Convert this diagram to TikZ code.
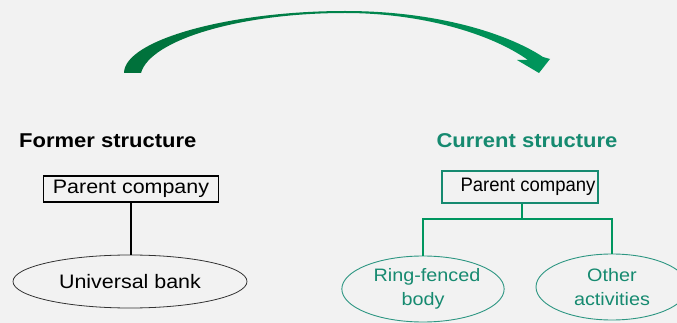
\documentclass[tikz,border=0pt]{standalone}
\usepackage{fontspec}
\setmainfont{Liberation Sans}[FakeStretch=1.1]
\newfontfamily\narrowfont{Liberation Sans}[FakeStretch=0.95]
\usetikzlibrary{shapes.geometric}
\definecolor{bg}{RGB}{242,242,242}
\definecolor{teal}{RGB}{22,138,112}
\definecolor{lgreen}{RGB}{0,150,95}
\definecolor{eteal}{RGB}{45,150,130}
\definecolor{adark}{RGB}{0,112,58}
\definecolor{alight}{RGB}{0,150,92}
\tikzset{
  title/.style={font=\fontsize{20}{24}\selectfont\bfseries, inner sep=0pt},
  oldbox/.style={draw=black, line width=1.3pt, minimum width=175pt, minimum height=26pt, inner sep=0pt, font=\fontsize{19.5}{23}\selectfont},
  newbox/.style={draw=teal, line width=1.5pt, minimum width=156pt, minimum height=32pt, inner sep=0pt, font=\narrowfont\fontsize{19.5}{23}\selectfont},
  oldell/.style={ellipse, draw=black!80, line width=0.8pt, inner sep=0pt, font=\fontsize{19.5}{23}\selectfont},
  newell/.style={ellipse, draw=eteal, line width=0.9pt, inner sep=0pt, align=center, text=teal, font=\fontsize{18}{24}\selectfont},
  oldline/.style={draw=black, line width=1.3pt},
  newline/.style={draw=lgreen, line width=2pt}
}
\begin{document}
\begin{tikzpicture}[x=1pt,y=-1pt]
\fill[bg] (0,0) rectangle (677,323);
\useasboundingbox (0,0) rectangle (677,323);
\clip (0,0) rectangle (677,323);
% curved arrow
\shade[left color=adark, right color=alight]
  (124,73) .. controls (124,40) and (230,11) .. (345,11)
  .. controls (440,11) and (510,35) .. (543,57)
  -- (550,59) -- (539,73) -- (517,60) -- (528,60)
  .. controls (490,33) and (420,13) .. (345,13)
  .. controls (240,13) and (150,40) .. (141,73) -- cycle;
% former structure
\node[title, anchor=base west] (ft) at (19,148) {Former structure};
\node[oldbox] (lp) at (131,189) {Parent company};
\node[oldell, minimum width=234pt, minimum height=53pt] (ub) at (130,281.5) {Universal bank};
\draw[oldline] (lp.south) -- (lp.south |- ub.north);
% current structure
\node[title, anchor=base, text=teal] (ct) at (527,148) {Current structure};
\node[newbox] (rp) at (520,187) {\hspace{16pt}Parent company};
\node[newell, minimum width=151pt, minimum height=66pt] (rf) at (423,289) {\hspace{8pt}Ring-fenced\\body};
\node[newell, minimum width=152pt, minimum height=66pt] (oa) at (612,287) {Other\\activities};
\coordinate (bar) at (522,219);
\draw[newline] (rp.south -| bar) -- (bar);
\draw[newline] (bar) -| (rf.north);
\draw[newline] (bar) -| (oa.north);
\end{tikzpicture}
\end{document}
